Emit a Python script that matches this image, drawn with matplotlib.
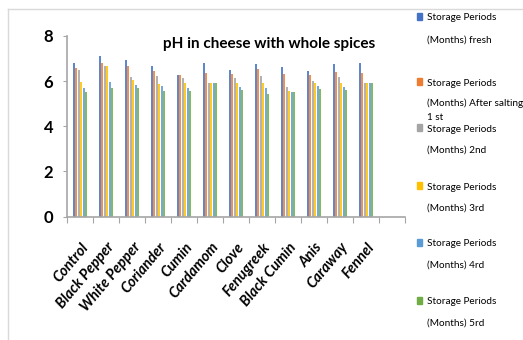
import matplotlib
matplotlib.use('Agg')
import matplotlib.pyplot as plt
from matplotlib.lines import Line2D
from matplotlib.patches import Rectangle
import numpy as np

# spices, the last slot on the axis is left empty
spices = ['Control', 'Black Pepper', 'White Pepper', 'Coriander', 'Cumin',
          'Cardamom', 'Clove', 'Fenugreek', 'Black Cumin', 'Anis', 'Caraway',
          'Fennel', '']

fresh = [6.82, 7.13, 6.94, 6.68, 6.27, 6.82, 6.49, 6.74, 6.64, 6.46, 6.74, 6.82]
after_salting = [6.59, 6.82, 6.67, 6.45, 6.27, 6.37, 6.32, 6.54, 6.32, 6.27, 6.42, 6.36]
month2 = [6.49, 6.67, 6.20, 6.23, 6.12, 5.90, 6.12, 6.23, 5.72, 6.02, 6.20, 5.93]
month3 = [5.95, 6.67, 6.05, 5.86, 5.90, 5.90, 5.93, 5.93, 5.58, 5.90, 5.90, 5.93]
month4 = [5.68, 5.95, 5.83, 5.78, 5.71, 5.90, 5.75, 5.68, 5.53, 5.78, 5.74, 5.93]
month5 = [5.53, 5.68, 5.68, 5.58, 5.56, 5.90, 5.61, 5.42, 5.53, 5.66, 5.61, 5.93]

series = [fresh, after_salting, month2, month3, month4, month5]
names = [['Storage Periods', '(Months) fresh'],
         ['Storage Periods', '(Months) After salting', '1 st'],
         ['Storage Periods', '(Months) 2nd'],
         ['Storage Periods', '(Months) 3rd'],
         ['Storage Periods', '(Months) 4rd'],
         ['Storage Periods', '(Months) 5rd']]
colors = ['#4472C4', '#ED7D31', '#A5A5A5', '#FFC000', '#5B9BD5', '#70AD47']

W, H = 523, 340
fig = plt.figure(figsize=(W / 100, H / 100), dpi=100)
ax = fig.add_axes([67 / W, 1 - 216.5 / H, (405 - 67) / W, (216.5 - 36) / H])

font = 'Lato'
step = 0.096
x = np.arange(len(fresh)) + 0.5
for i, (vals, c) in enumerate(zip(series, colors)):
    ax.bar(x + (i - 2.5) * step, vals, width=0.085, color=c, alpha=0.85,
           linewidth=0)

ax.set_xlim(0, len(spices))
ax.set_ylim(0, 8)
ax.set_yticks([0, 2, 4, 6, 8])
ax.set_yticklabels(['0', '2', '4', '6', '8'], fontsize=12, fontweight='bold',
                   family=font)
ax.set_xticks(np.arange(len(spices) + 1))
ax.set_xticklabels([])
ax.set_xticks(np.arange(len(spices)) + 0.52, minor=True)
ax.set_xticklabels(spices, minor=True, rotation=50, ha='right', va='top',
                   rotation_mode='anchor', fontsize=10.5, fontweight='bold',
                   style='italic', family=font)
ax.tick_params(axis='x', which='minor', length=0, pad=17)
ax.tick_params(axis='x', which='major', length=4, color='#a6a6a6')
ax.tick_params(axis='y', length=3, color='#a6a6a6', pad=7)
for s in ['top', 'right']:
    ax.spines[s].set_visible(False)
for s in ['left', 'bottom']:
    ax.spines[s].set_color('#a6a6a6')
    ax.spines[s].set_linewidth(1.2)

fig.text(269 / W, 1 - 44 / H, 'pH in cheese with whole spices', ha='center',
         va='center', fontsize=11, fontweight='bold', family=font)

# legend drawn by hand on the right, one text per line
line_y = [[18, 40], [83, 103, 117], [129, 150], [187, 208], [244, 265], [302, 323]]
for lines, c, ys in zip(names, colors, line_y):
    fig.add_artist(Rectangle((417 / W, 1 - (ys[0] + 2) / H), 5 / W, 7 / H,
                             transform=fig.transFigure, color=c))
    for txt, y in zip(lines, ys):
        fig.text(427 / W, 1 - y / H, txt, ha='left', va='center',
                 fontsize=7.2, family=font)

# outer chart border
fig.add_artist(Line2D([8 / W, 8 / W], [0, 1 - 9 / H], color='#d9d9d9', lw=1))
fig.add_artist(Line2D([8 / W, 1], [1 - 9 / H, 1 - 9 / H], color='#d9d9d9', lw=1))

fig.savefig('out.png', dpi=100)
